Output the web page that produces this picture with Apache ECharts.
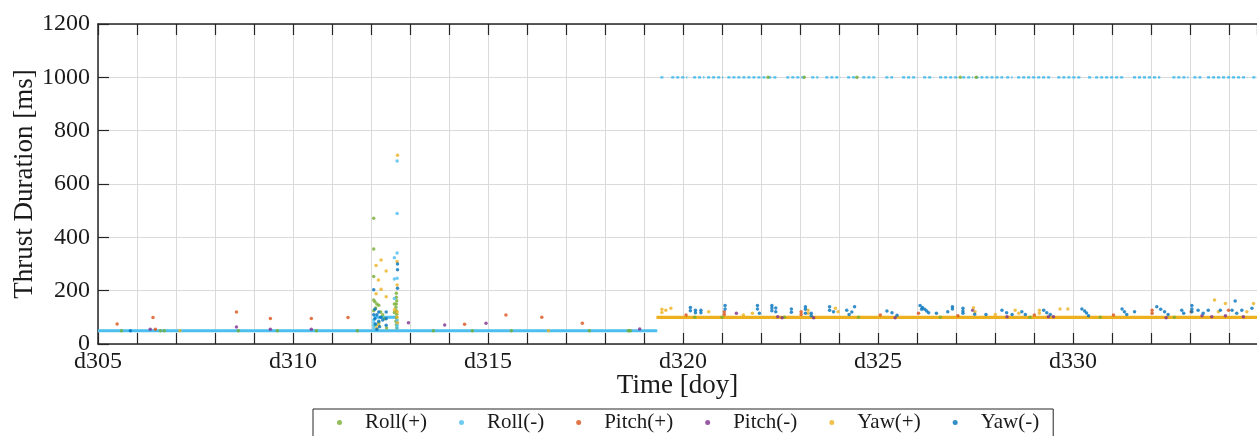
<!DOCTYPE html>
<html>
<head>
<meta charset="utf-8">
<script src="https://cdn.jsdelivr.net/npm/echarts@6/dist/echarts.min.js"></script>
<style>
html,body{margin:0;padding:0;background:#fff;}
#chart{width:1257px;height:436px;}
</style>
</head>
<body>
<div id="chart"></div>
<script>
// ---------- DATA (day-of-year, thrust duration ms) ----------
const seriesNames = ['Roll(+)', 'Roll(-)', 'Pitch(+)', 'Pitch(-)', 'Yaw(+)', 'Yaw(-)'];
const seriesColors = ['#77AC30', '#4DBEEE', '#D95319', '#7E2F8E', '#EDB120', '#0072BD'];
const xTickLabels = ['d305', 'd310', 'd315', 'd320', 'd325', 'd330'];
const xMin = 305, xMax = 334.72;
const yMin = 0, yMax = 1200, yStep = 200;

const rollPlusPts = [
  [305.6,50],[306.6,50],[306.7,50],[308.6,50],[309.6,50],[310.6,50],[311.65,50],[313.6,50],[314.6,50],
  [315.6,50],[317.6,50],[318.6,50],[318.65,50],
  [312.07,472],[312.07,356],[312.07,253],[312.07,165],[312.1,158],[312.15,150],[312.2,145],[312.12,135],
  [312.07,125],[312.25,120],[312.3,110],[312.35,95],[312.2,80],[312.1,70],[312.4,60],
  [312.65,190],[312.65,175],[312.66,162],[312.65,150],[312.64,138],[312.65,125],[312.66,112],
  [312.65,98],[312.64,85],[312.65,72],[312.66,60],[312.6,150],[312.6,118],
  [322.18,1000],[323.11,1000],[324.46,1000],[327.11,1000],[327.52,1000],
  [320.3,100],[321.0,100],[322.6,100],[324.5,100],[326.6,100],[328.9,100],[330.7,100],[332.6,100]
];
const rollMinusPts = [
  [312.67,686],[312.67,489],[312.67,341],[312.6,323],[312.6,244],[312.67,247],[312.6,171],
  [312.07,90],[312.07,80],[312.07,70],[312.07,60],[312.67,90],[312.67,80],[312.67,70],[312.67,60]
];
// dense runs of Roll(-) samples: [start day, end day, ms]
const rollMinusRuns = [
  [305.0,319.34,50],[312.07,312.67,100],
  [319.42,319.5,1000],[319.7,320.11,1000],[320.26,320.55,1000],[320.62,321.03,1000],[321.14,322.16,1000],
  [322.19,322.44,1000],[322.65,323.14,1000],[323.29,323.47,1000],[323.65,324.04,1000],[324.21,324.49,1000],
  [324.6,324.93,1000],[325.19,325.39,1000],[325.62,326.01,1000],[326.16,326.42,1000],[326.57,327.06,1000],
  [327.16,327.44,1000],[327.5,328.21,1000],[328.29,328.45,1000],[328.57,329.16,1000],[329.21,329.47,1000],
  [329.6,330.23,1000],[330.39,330.49,1000],[330.57,331.29,1000],[331.54,332.24,1000],[332.55,332.96,1000],
  [333.09,333.34,1000],[333.44,334.47,1000],[334.6,334.72,1000]
];
const pitchPlusPts = [
  [305.49,75],[306.41,99],[306.47,55],[308.55,120],[309.42,96],[310.47,96],[311.41,99],[314.4,74],
  [315.46,109],[316.38,100],[317.42,78],
  [320.08,109],[321.06,121],[321.06,111],[323.03,121],[323.03,111],[325.06,109],[326.04,115],[327.05,106],
  [329.01,109],[331.04,109],[332.03,127],[332.03,115],[333.03,121],[333.99,127]
];
const pitchMinusPts = [
  [306.34,55],[308.55,64],[309.42,55],[310.47,55],[312.96,80],[313.89,71],[314.95,78],[318.89,56],
  [321.37,115],[322.43,102],[322.54,98],[323.35,98],[325.44,98],[327.43,127],[328.31,102],[329.37,102],
  [329.5,102],[332.39,98],[333.31,106],[333.56,102],[333.91,106],[334.37,102]
];
const yawPlusPts = [
  [307.1,50],[316.55,50],
  [312.68,708],[312.26,315],[312.13,294],[312.67,309],[312.39,274],[312.19,240],[312.67,221],[312.26,205],
  [312.13,188],[312.39,177],[312.6,128],[312.67,120],[312.67,100],[312.68,80],[312.15,60],[312.2,70],
  [319.46,130],[319.46,118],[319.56,127],[319.69,134],[320.66,121],[321.55,109],[321.78,115],[323.21,127],
  [323.21,115],[323.91,134],[323.98,121],[327.45,136],[327.49,121],[328.01,111],[328.52,127],[328.61,115],
  [329.14,127],[329.14,115],[329.67,131],[329.87,131],[333.63,165],[333.73,121],[333.91,152],[334.46,121],
  [334.63,152]
];
// dense runs of Yaw(+) samples: [start day, end day, ms]
const yawPlusRuns = [[319.32,334.72,100]];
const yawMinusPts = [
  [305.83,50],
  [312.68,300],[312.68,278],[312.68,209],[312.07,203],
  [312.1,130],[312.2,120],[312.15,110],[312.25,100],[312.1,95],[312.2,85],[312.12,75],[312.22,65],
  [312.15,55],[312.39,120],[312.39,95],[312.39,70],[312.07,110],[312.3,90],
  [320.19,137],[320.19,125],[320.32,127],[320.32,117],[320.46,127],[320.46,117],
  [321.08,144],[321.08,131],[321.91,144],[321.91,131],[321.96,115],
  [322.28,144],[322.28,135],[322.28,125],[322.38,135],[322.38,121],
  [322.78,131],[322.78,119],[323.14,140],[323.14,130],[323.14,115],[323.29,115],[323.29,106],
  [323.76,140],[323.76,127],[323.86,121],[324.2,127],[324.26,111],[324.33,120],[324.4,140],
  [325.23,124],[325.36,117],[325.49,108],
  [326.08,144],[326.14,137],[326.2,130],[326.25,124],[326.3,117],[326.12,130],
  [326.5,115],[326.79,121],[326.91,140],[326.91,131],
  [327.18,134],[327.18,124],[327.18,115],[327.48,112],[327.77,111],
  [328.18,127],[328.3,117],[328.44,111],[328.69,121],[328.78,111],
  [329.25,127],[329.33,117],[329.42,111],
  [330.23,131],[330.3,124],[330.35,116],[330.4,106],
  [331.26,131],[331.32,121],[331.38,111],[331.58,121],
  [332.15,140],[332.25,130],[332.35,121],[332.44,111],
  [332.79,127],[332.84,115],[333.05,144],[333.05,131],[333.05,121],
  [333.21,127],[333.34,115],[333.47,127],
  [333.78,127],[334.16,161],[334.08,127],[334.2,115],[334.33,127],[334.59,134]
];

// ---------- CHART ----------
const FONT = 'Liberation Serif';
const TXT = '#1a1a1a';
const AX = '#262626';

function runsToLine(runs, value) {
  const out = [];
  runs.filter(r => r[2] === value).forEach(r => {
    out.push([r[0], r[2]]); out.push([r[1], r[2]]); out.push([r[1], '-']);
  });
  return out;
}

const pts = [rollPlusPts, rollMinusPts, pitchPlusPts, pitchMinusPts, yawPlusPts, yawMinusPts];
const series = seriesNames.map((n, i) => ({
  name: n, type: 'scatter', data: pts[i], symbol: 'circle', symbolSize: 3.5,
  itemStyle: { color: seriesColors[i] }, z: 3, silent: true
}));
function runSeries(name, color, runs, value, width, dash) {
  return {
    name: name, type: 'line', data: runsToLine(runs, value), symbol: 'none', connectNulls: false,
    lineStyle: { color: color, width: width, type: dash || 'solid' }, itemStyle: { color: color },
    z: 1, silent: true, animation: false
  };
}
series.push(runSeries('Roll(-)', seriesColors[1], rollMinusRuns, 50, 3));
series.push(runSeries('Roll(-)', seriesColors[1], rollMinusRuns, 100, 3));
series.push(runSeries('Roll(-)', seriesColors[1], rollMinusRuns, 1000, 2.2, [3, 2]));
series.push(runSeries('Yaw(+)', seriesColors[4], yawPlusRuns, 100, 3.2));

const option = {
  animation: false,
  backgroundColor: '#fff',
  grid: { left: 98, right: 0, top: 24, bottom: 92, containLabel: false, outerBoundsMode: 'none' },
  legend: {
    left: 313, top: 409,
    data: seriesNames.map(n => ({ name: n, icon: 'circle' })),
    itemWidth: 5, itemHeight: 5, itemGap: 32,
    padding: [3, 14, 12, 24],
    borderColor: AX, borderWidth: 1,
    textStyle: { fontFamily: FONT, fontSize: 21, color: TXT, padding: [0, 0, 0, 18] },
    selectedMode: false
  },
  xAxis: [{
    type: 'value', min: xMin, max: xMax, interval: 1, position: 'bottom',
    name: 'Time [doy]', nameLocation: 'middle', nameGap: 28, nameMoveOverlap: false,
    nameTextStyle: { fontFamily: FONT, fontSize: 27, color: TXT },
    axisLine: { show: true, onZero: false, lineStyle: { color: AX, width: 1.5 } },
    axisTick: { show: true, inside: true, length: 11, lineStyle: { color: AX, width: 1.2 } },
    axisLabel: {
      fontFamily: FONT, fontSize: 24, color: TXT, margin: 6, showMaxLabel: false, hideOverlap: false,
      formatter: v => { const l = xTickLabels.find(t => +t.slice(1) === Math.round(v)); return (Math.abs(v - Math.round(v)) < 1e-6 && l) ? l : ''; }
    },
    splitLine: { show: true, lineStyle: { color: '#dadada', width: 1 } }
  }, {
    type: 'value', min: xMin, max: xMax, interval: 1, position: 'top',
    axisLine: { show: true, onZero: false, lineStyle: { color: AX, width: 1.5 } },
    axisTick: { show: true, inside: true, length: 11, lineStyle: { color: AX, width: 1.2 } },
    axisLabel: { show: false }, splitLine: { show: false }
  }],
  yAxis: {
    type: 'value', min: yMin, max: yMax, interval: yStep,
    name: 'Thrust Duration [ms]', nameLocation: 'middle', nameGap: 60, nameMoveOverlap: false,
    nameTextStyle: { fontFamily: FONT, fontSize: 27, color: TXT },
    axisLine: { show: true, lineStyle: { color: AX, width: 1.5 } },
    axisTick: { show: true, inside: true, length: 11, lineStyle: { color: AX, width: 1.2 } },
    axisLabel: { fontFamily: FONT, fontSize: 24, color: TXT, margin: 8, formatter: v => String(v) },
    splitLine: { show: true, lineStyle: { color: '#dadada', width: 1 } }
  },
  series: series
};

const chart = echarts.init(document.getElementById('chart'), null, { renderer: 'canvas' });
chart.setOption(option);
</script>
</body>
</html>
